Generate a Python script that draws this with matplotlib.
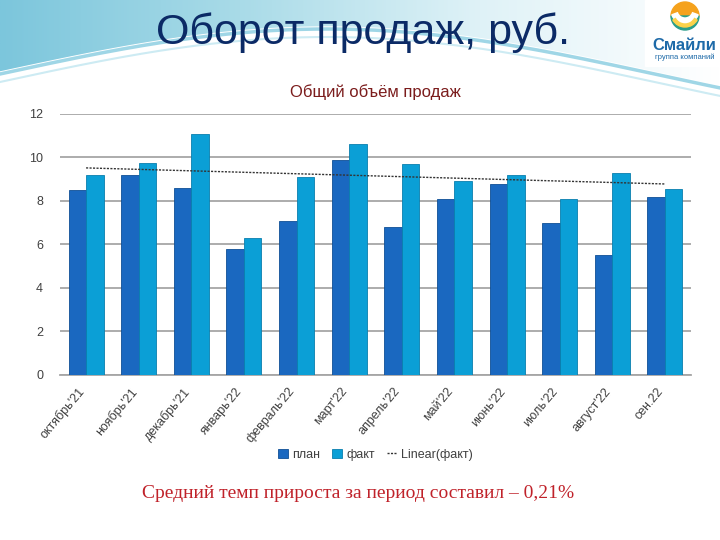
import matplotlib
matplotlib.use("Agg")
import matplotlib.pyplot as plt
import matplotlib.transforms as mtransforms
import numpy as np
from matplotlib.patches import Wedge, Rectangle

months = ["октябрь'21", "ноябрь'21", "декабрь'21", "январь'22", "февраль'22", "март'22",
          "апрель'22", "май'22", "июнь'22", "июль'22", "август'22", "сен.22"]
plan = [8.5, 9.2, 8.6, 5.8, 7.1, 9.9, 6.8, 8.1, 8.8, 7.0, 5.5, 8.2]
fact = [9.2, 9.75, 11.1, 6.3, 9.1, 10.6, 9.7, 8.9, 9.2, 8.1, 9.3, 8.55]

plt.rcParams['font.family'] = ['Liberation Sans', 'DejaVu Sans']

fig = plt.figure(figsize=(7.2, 5.4), dpi=100)

# decorative banner in the background (pixel coords, y pointing down)
bg = fig.add_axes([0, 0, 1, 1], zorder=-10)
bg.set_xlim(0, 720)
bg.set_ylim(540, 0)
bg.axis('off')
xx = np.linspace(0, 720, 400)
grad = np.linspace(0, 1, 256).reshape(1, -1)
bg.imshow(grad, extent=[0, 720, 130, 0], cmap=matplotlib.colors.LinearSegmentedColormap.from_list(
    'b', ['#7cc6dc', '#a9dbe8', '#dff2f7', '#ffffff']), aspect='auto', zorder=0)
# white wave cutting across the banner
upper = 72 - 45 * np.sin(xx / 720 * np.pi * 1.1)
bg.fill_between(xx, upper, 140, color='white', zorder=1)
bg.plot(xx, upper + 2, color='#9fd6e6', lw=2.5, zorder=2)
bg.plot(xx, upper + 10, color='#cdebf3', lw=1.5, zorder=2)

fig.text(0.504, 0.94, "Оборот продаж, руб.", ha='center', va='center',
         fontsize=31, color='#0b2a66')

# logo (angles flipped because y is inverted)
bg.add_patch(Rectangle((645, 0), 75, 66, color='white', zorder=3))
bg.add_patch(Wedge((685, 16), 14, 180, 360, color='#f5a21c', zorder=4))
bg.add_patch(Wedge((685, 16), 14, 0, 180, color='#2a9e8a', zorder=4))
bg.add_patch(Wedge((685, 10), 14, 20, 160, width=6, color='white', zorder=5))
bg.add_patch(Wedge((685, 13), 14, 30, 150, width=3, color='#fbd24a', zorder=6))
fig.text(0.951, 0.916, "Смайли", ha='center', va='center', fontsize=12,
         fontweight='bold', color='#1e6aa8')
fig.text(0.951, 0.893, "группа компаний", ha='center', va='center', fontsize=5.5,
         color='#1e6aa8')

ax = fig.add_axes([0.083, 0.3056, 0.877, 0.4834])
x = np.arange(len(months))
w = 0.333
h1 = ax.bar(x - w / 2, plan, w, color='#1a68c0', edgecolor='#0f4f95', linewidth=0.6,
            label='план', zorder=3)
h2 = ax.bar(x + w / 2, fact, w, color='#0b9fd6', edgecolor='#0a7fae', linewidth=0.6,
            label='факт', zorder=3)
k, b = np.polyfit(x, fact, 1)
h3, = ax.plot(x, k * x + b, color='#333333', lw=1.0, ls=(0, (1.5, 1)),
              label='Linear(факт)', zorder=4)

ax.set_xlim(-0.5, len(months) - 0.5)
ax.set_ylim(0, 12)
ax.set_yticks(range(0, 13, 2))
ax.yaxis.grid(True, color='#a6a6a6', lw=1.3, zorder=0)
for s in ['top', 'right', 'left']:
    ax.spines[s].set_visible(False)
ax.spines['bottom'].set_color('#a6a6a6')
ax.spines['bottom'].set_linewidth(1.3)
ax.tick_params(axis='both', length=0, colors='#404040', labelsize=9)
ax.tick_params(axis='y', pad=12)
ax.set_xticks(x)
ax.set_xticklabels(months, rotation=50, ha='right', rotation_mode='anchor')
shift = mtransforms.ScaledTranslation(-6 / 72, -4 / 72, fig.dpi_scale_trans)
for lab in ax.get_xticklabels():
    lab.set_transform(lab.get_transform() + shift)
ax.set_title("Общий объём продаж", color='#7b1c1c', fontsize=12, pad=12)

ax.legend(handles=[h1, h2, h3], loc='upper center', bbox_to_anchor=(0.5, -0.24),
          ncol=3, frameon=False, fontsize=9, handlelength=0.8, handletextpad=0.3,
          columnspacing=1.0, labelcolor='#404040')

fig.text(0.497, 0.087, "Средний темп прироста за период составил – 0,21%",
         ha='center', va='center', fontsize=14, color='#c0222a',
         family=['Liberation Serif', 'DejaVu Serif'])

fig.savefig("out.png", dpi=100)
